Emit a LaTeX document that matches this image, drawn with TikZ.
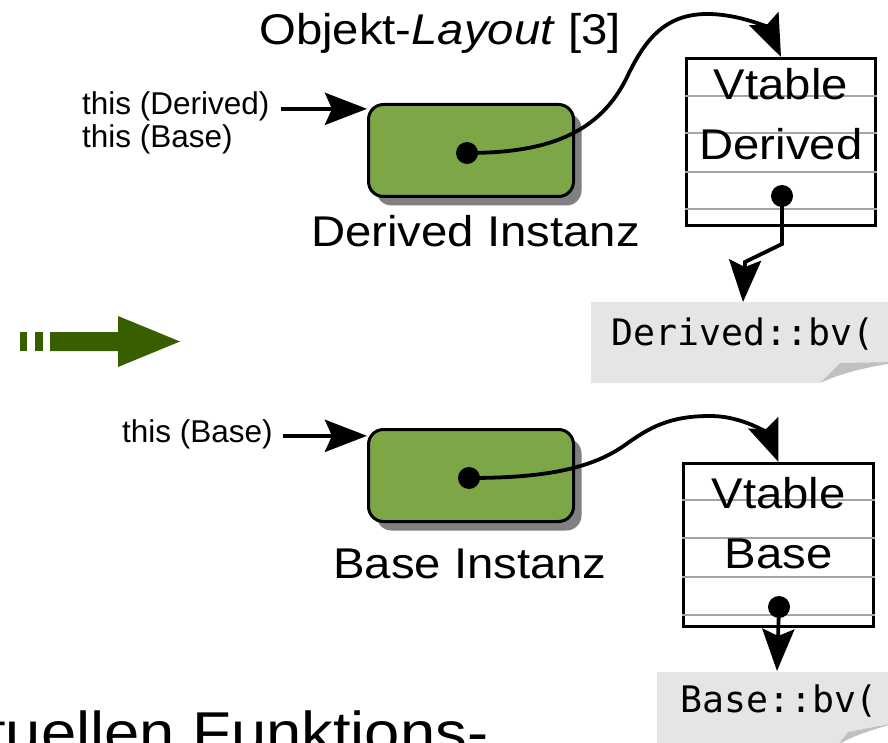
\documentclass[tikz,border=0pt]{standalone}
\usepackage{fontspec}
\setmainfont{Liberation Sans}
\newfontfamily\bigsans[FakeStretch=1.1]{Liberation Sans}
\newfontfamily\codefont{DejaVu Sans Mono}
\usetikzlibrary{arrows.meta,shadows}

\definecolor{boxgreen}{RGB}{125,166,71}
\definecolor{arrowgreen}{RGB}{56,94,0}
\definecolor{notegray}{RGB}{229,229,229}
\definecolor{curlgray}{RGB}{192,192,192}
\definecolor{shadowgray}{RGB}{128,128,128}
\definecolor{rulegray}{RGB}{165,165,165}

\tikzset{
  bigtext/.style={inner sep=0pt, font=\bigsans\fontsize{43}{50}\selectfont},
  smalltext/.style={inner sep=0pt, anchor=base west, font=\fontsize{31.5}{36}\selectfont},
  codetext/.style={inner sep=0pt, anchor=base west, font=\codefont\fontsize{36.5}{42}\selectfont},
  instbox/.style={draw=black, line width=3pt, fill=boxgreen, rounded corners=15pt,
    minimum width=205pt, minimum height=92pt, inner sep=0pt,
    drop shadow={shadow xshift=8pt, shadow yshift=-9pt, fill=shadowgray, opacity=1}},
  vtbox/.style={draw=black, line width=3pt, inner sep=0pt},
  rowline/.style={draw=rulegray, line width=1.2pt},
  dot/.style={circle, fill=black, minimum size=22pt, inner sep=0pt},
  link/.style={line width=3.8pt, -{Stealth[length=42pt, width=32pt, inset=7pt]}},
  pointer/.style={link, line width=4.5pt},
}

\begin{document}
\begin{tikzpicture}[x=1pt, y=-1pt]
\useasboundingbox (0,0) rectangle (888,743);
\clip (0,0) rectangle (888,743);

% title
\node (title) [bigtext, anchor=base west] at (259,45) {Objekt-\textit{Layout} [3]};

% ---------- derived object ----------
\node (gd) [instbox] at (471,150.5) {};
\node (ld) [bigtext, anchor=base west] at (311,247) {Derived Instanz};
\node (thisD) [smalltext] at (82,115) {this (Derived)};
\node (thisDB) [smalltext] at (82,148) {this (Base)};
\draw[pointer] ([xshift=11pt,yshift=-2pt]thisD.east) -- ([yshift=-2pt]thisD.east -| gd.west);

\node (vtd) [vtbox, minimum width=189pt, minimum height=167pt] at (781,142) {};
\foreach \yy in {96,133,172,209}
  \draw[rowline] (vtd.west |- 0,\yy) -- (vtd.east |- 0,\yy);
\node (vtdA) [bigtext, anchor=base] at (781,100) {Vtable};
\node (vtdB) [bigtext, anchor=base] at (781,160) {Derived};

\node (dd) [dot] at (467,153) {};
\draw[link] (dd.center) .. controls (545,153) and (600,135) .. (628,75)
  .. controls (645,40) and (665,14) .. (707,14)
  .. controls (740,14) and (768,28) .. (vtd.north);

% note with folded corner
\fill[notegray] (591,302) -- (900,302) -- (900,363) -- (840,363) -- (820,383) -- (591,383) -- cycle;
\fill[curlgray] (820,383) -- (840,363) -- (900,362) .. controls (860,368) and (840,374) .. (820,383) -- cycle;
\node (cd) [codetext] at (611,345) {Derived::bv(};
\coordinate (cdtop) at (743,302);

\node (vd) [dot] at (782,196) {};
\draw[link] (vd.center) -- (782,244) -- (745,262) -- (cdtop);

% ---------- transition arrow ----------
\fill[arrowgreen] (20,332) rectangle (27,351);
\fill[arrowgreen] (35,332) rectangle (43,351);
\fill[arrowgreen] (50,332) -- (118,332) -- (118,316) -- (180,341.5) -- (118,367) -- (118,351) -- (50,351) -- cycle;

% ---------- base object ----------
\node (gb) [instbox] at (471,475.5) {};
\node (lb) [bigtext, anchor=base west] at (333,578) {Base Instanz};
\node (thisB) [smalltext] at (122,442) {this (Base)};
\draw[pointer] ([xshift=10pt,yshift=-2pt]thisB.east) -- ([yshift=-2pt]thisB.east -| gb.west);

\node (vtb) [vtbox, minimum width=190pt, minimum height=163pt] at (778.5,545) {};
\foreach \yy in {500,538,577,615}
  \draw[rowline] (vtb.west |- 0,\yy) -- (vtb.east |- 0,\yy);
\node (vtbA) [bigtext, anchor=base] at (778.5,508) {Vtable};
\node (vtbB) [bigtext, anchor=base] at (778.5,568) {Base};

\node (db) [dot] at (469,478) {};
\draw[link] (db.center) .. controls (540,478) and (590,470) .. (625,445)
  .. controls (650,427) and (670,416) .. (710,416)
  .. controls (745,416) and (768,435) .. (vtb.north);

\fill[notegray] (657,672) -- (900,672) -- (900,722) -- (848,732) -- (838,745) -- (657,745) -- cycle;
\fill[curlgray] (838,745) -- (848,732) -- (900,722) .. controls (870,730) and (850,737) .. (838,745) -- cycle;
\node (cb) [codetext] at (680,712) {Base::bv(};
\coordinate (cbtop) at (777,671);

\node (vb) [dot] at (779,607) {};
\draw[link] (vb.center) -- (cbtop);

% continuing body text
\node (body) [inner sep=0pt, anchor=base west, font=\bigsans\fontsize{57.6}{66}\selectfont] at (-12,752) {tuellen Funktions-};
\end{tikzpicture}
\end{document}
